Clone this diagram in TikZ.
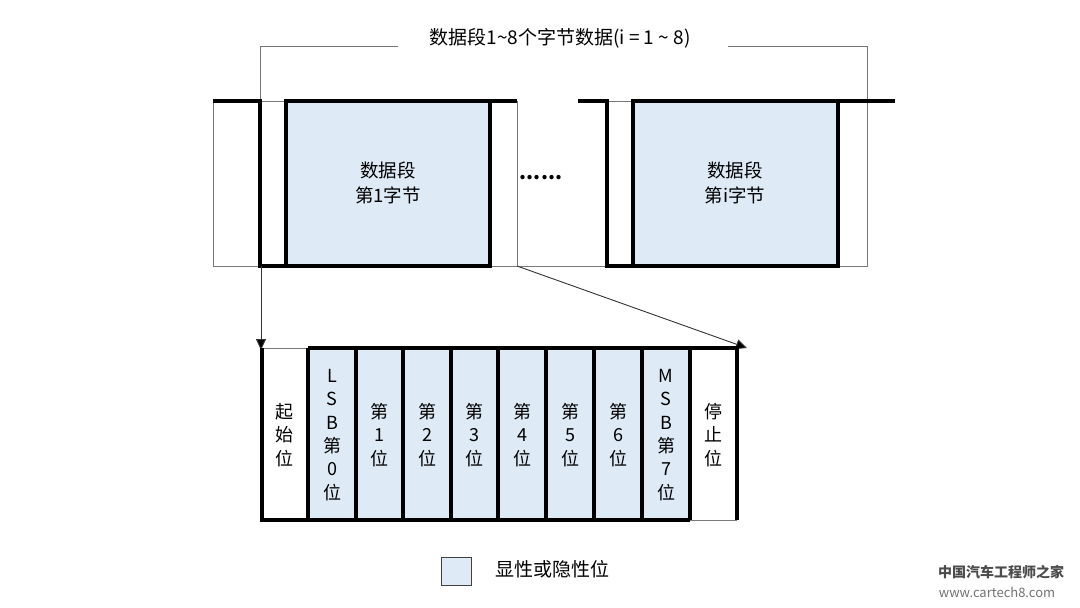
\documentclass[tikz,border=0pt]{standalone}
\usepackage{fontspec}
\setmainfont{Noto Sans CJK SC}
\usetikzlibrary{arrows.meta}
\definecolor{bitblue}{RGB}{222,235,247}
\definecolor{guidegray}{RGB}{120,120,120}
\begin{document}
\begin{tikzpicture}[x=1pt,y=-1pt,
  sig/.style={line width=3.2pt,black,line join=miter},
  guide/.style={line width=0.8pt,guidegray},
  arr/.style={line width=0.9pt,black!80,-{Triangle[length=11pt,width=10pt,fill=black]}},
  txt/.style={font=\fontsize{18.5}{25}\selectfont,align=center,inner sep=0pt},
  cell/.style={font=\fontsize{18}{23.3}\selectfont,align=center,inner sep=0pt}]
\useasboundingbox[fill=white] (0,0) rectangle (1080,608);
% title bracket
\node[font=\fontsize{19}{22}\selectfont,inner sep=0pt] (title) at (560,38) {数据段1\textasciitilde 8个字节数据(i = 1 \textasciitilde\ 8)};
\draw[guide] (398,46) -- (260,46) -- (260,101);
\draw[guide] (728,46) -- (867,46) -- (867,266) -- (838,266);
% guide lines of top frames
\draw[guide] (213,101) -- (213,266) -- (607,266);
\draw[guide] (517,101) -- (517,266);
\draw[guide] (260,101) -- (286,101);
\draw[guide] (607,101) -- (633,101);
% first byte
\fill[bitblue] (286,101) rectangle (490,266);
\draw[sig] (213,101) -- (260,101) -- (260,266) -- (490,266) -- (490,101) -- (517,101);
\draw[sig] (286,266) -- (286,101) -- (490,101);
\node[txt] (byte1) at (388,183) {数据段\\第1字节};
% dots
\node[font=\fontsize{20}{22}\selectfont\bfseries,inner sep=0pt] (dots) at (541,178) {......};
% i-th byte
\fill[bitblue] (633,101) rectangle (838,266);
\draw[sig] (578,101) -- (607,101) -- (607,266) -- (838,266) -- (838,101) -- (895,101);
\draw[sig] (633,266) -- (633,101) -- (838,101);
\node[txt] (bytei) at (735,183) {数据段\\第i字节};
% zoom arrows
\coordinate (z1) at (261,266);
\coordinate (z1e) at (261,350);
\coordinate (z2) at (517,266);
\coordinate (z2e) at (747,348);
\draw[arr] (z1) -- (z1e);
\draw[arr] (z2) -- (z2e);
% bit frame
\fill[bitblue] (308,348) rectangle (690,520);
\draw[guide] (262,348) -- (308,348);
\draw[guide] (690,520) -- (737,520);
\draw[sig] (262,348) -- (262,520) -- (690,520);
\draw[sig] (308,348) -- (737,348) -- (737,520);
\foreach \x in {308,356,403,451,498,546,594,642,690}
  \draw[sig] (\x,348) -- (\x,520);
\node[cell] (start) at (284,435) {起\\始\\位};
\node[cell] (b0) at (332,435) {L\\S\\B\\第\\0\\位};
\node[cell] (b1) at (379.5,435) {第\\1\\位};
\node[cell] (b2) at (427,435) {第\\2\\位};
\node[cell] (b3) at (474.5,435) {第\\3\\位};
\node[cell] (b4) at (522,435) {第\\4\\位};
\node[cell] (b5) at (570,435) {第\\5\\位};
\node[cell] (b6) at (618,435) {第\\6\\位};
\node[cell] (b7) at (666,435) {M\\S\\B\\第\\7\\位};
\node[cell] (stop) at (713.5,435) {停\\止\\位};
% legend
\draw[line width=0.8pt,black!75,fill=bitblue] (441,557) rectangle (471,585);
\node[font=\fontsize{19}{22}\selectfont,inner sep=0pt,anchor=west] (legend) at (495,569) {显性或隐性位};
% watermark
\node[font=\fontsize{14}{16}\selectfont\bfseries,text=black!70,inner sep=0pt] (wm1) at (1001,572) {中国汽车工程师之家};
\node[font=\fontsize{13}{15}\selectfont,text=black!55,inner sep=0pt] (wm2) at (997,592) {www.cartech8.com};
\end{tikzpicture}
\end{document}
